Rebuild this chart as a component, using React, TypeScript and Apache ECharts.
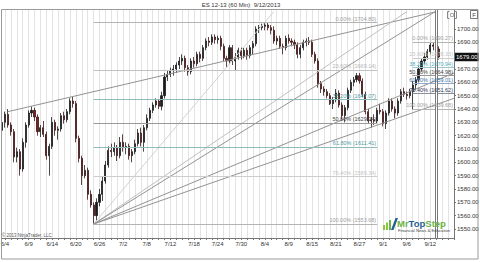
import { useEffect, useRef } from 'react';
import * as echarts from 'echarts';

const FONT = '"Liberation Sans", Arial, sans-serif';

const titleText = 'ES 12-13 (60 Min)  9/12/2013';
const copyrightText = '© 2013 NinjaTrader, LLC';

// x axis: 154 slots (two 60-min candles per grid slot), labels every 8 slots
const slotCount = 154;
const xLabels = ['6/4', '6/9', '6/14', '6/20', '6/26', '7/2', '7/8', '7/12', '7/18', '7/24', '7/30', '8/4', '8/9', '8/15', '8/21', '8/27', '9/1', '9/6', '9/12'];

const candleOpen = [
  1624, 1630, 1636, 1628, 1623, 1604, 1608, 1595, 1615, 1628,
  1637, 1639, 1634, 1623, 1626, 1621, 1605, 1612, 1630, 1624,
  1625, 1635, 1632, 1638, 1646, 1644, 1618, 1603, 1590, 1594,
  1576, 1568, 1560, 1570, 1576, 1586, 1598, 1609, 1608, 1611,
  1605, 1615, 1611, 1612, 1605, 1608, 1614, 1622, 1615, 1626,
  1633, 1639, 1643, 1646, 1642, 1650, 1664, 1666, 1669, 1670,
  1673, 1676, 1678, 1671, 1668, 1676, 1674, 1681, 1678, 1686,
  1691, 1690, 1694, 1692, 1693, 1687, 1678, 1676, 1686, 1676,
  1679, 1684, 1680, 1684, 1680, 1686, 1689, 1700, 1701, 1702,
  1703, 1701, 1699, 1691, 1693, 1687, 1686, 1693, 1691, 1690,
  1688, 1681, 1686, 1690, 1691, 1690, 1681, 1676, 1659, 1655,
  1653, 1650, 1644, 1647, 1652, 1643, 1635, 1641, 1654, 1660,
  1662, 1665, 1661, 1651, 1638, 1631, 1632, 1631, 1639, 1638,
  1629, 1637, 1646, 1640, 1637, 1646, 1653, 1651, 1650, 1653,
  1658, 1662, 1670, 1676, 1679, 1683, 1688, 1687, 1685,
];
const candleClose = [
  1630, 1636, 1628, 1623, 1604, 1608, 1595, 1615, 1628, 1637,
  1639, 1634, 1623, 1626, 1621, 1605, 1612, 1630, 1624, 1625,
  1635, 1632, 1638, 1646, 1644, 1618, 1603, 1590, 1594, 1576,
  1568, 1560, 1570, 1576, 1586, 1598, 1609, 1608, 1611, 1605,
  1615, 1611, 1612, 1605, 1608, 1614, 1622, 1615, 1626, 1633,
  1639, 1643, 1646, 1642, 1650, 1664, 1666, 1669, 1670, 1673,
  1676, 1678, 1671, 1668, 1676, 1674, 1681, 1678, 1686, 1691,
  1690, 1694, 1692, 1693, 1687, 1678, 1676, 1686, 1676, 1679,
  1684, 1680, 1684, 1680, 1686, 1689, 1700, 1701, 1702, 1703,
  1701, 1699, 1691, 1693, 1687, 1686, 1693, 1691, 1690, 1688,
  1681, 1686, 1690, 1691, 1690, 1681, 1676, 1659, 1655, 1653,
  1650, 1644, 1647, 1652, 1643, 1635, 1641, 1654, 1660, 1662,
  1665, 1661, 1651, 1638, 1631, 1632, 1631, 1639, 1638, 1629,
  1637, 1646, 1640, 1637, 1646, 1653, 1651, 1650, 1653, 1658,
  1662, 1670, 1676, 1679, 1683, 1688, 1687, 1685, 1679,
];
const candleLow = [
  1621, 1626, 1626, 1620, 1600, 1600, 1590, 1593, 1611, 1626,
  1634, 1631, 1620, 1619, 1619, 1602, 1590, 1610, 1620, 1617,
  1623, 1629, 1630, 1636, 1641, 1615, 1600, 1583, 1588, 1572,
  1566, 1553.68, 1556, 1567, 1571, 1584, 1596, 1604, 1605, 1601,
  1603, 1608, 1606, 1602, 1600, 1606, 1612, 1612, 1608, 1624,
  1631, 1637, 1641, 1640, 1639, 1648, 1661, 1664, 1665, 1667,
  1670, 1673, 1668, 1665, 1666, 1671, 1672, 1675, 1676, 1684,
  1687, 1688, 1689, 1689, 1684, 1676, 1671, 1674, 1673, 1669,
  1677, 1677, 1678, 1677, 1678, 1681, 1687, 1697, 1699, 1699,
  1699, 1696, 1689, 1688, 1685, 1681, 1684, 1689, 1687, 1685,
  1678, 1678, 1684, 1687, 1688, 1679, 1674, 1656, 1652, 1650,
  1648, 1643, 1640, 1645, 1641, 1632, 1630, 1639, 1652, 1657,
  1660, 1659, 1649, 1636, 1629, 1626, 1628, 1629, 1636, 1627,
  1625, 1635, 1638, 1633, 1635, 1644, 1649, 1647, 1648, 1639.68,
  1654, 1660, 1668, 1674, 1677, 1681, 1684, 1682, 1677,
];
const candleHigh = [
  1632, 1638, 1640, 1630, 1625, 1611, 1610, 1618, 1630, 1639,
  1642, 1641, 1636, 1628, 1631, 1623, 1614, 1634, 1632, 1627,
  1637, 1638, 1640, 1648, 1649, 1646, 1620, 1605, 1598, 1596,
  1579, 1570, 1573, 1580, 1589, 1601, 1612, 1614, 1615, 1613,
  1619, 1621, 1615, 1614, 1610, 1617, 1625, 1626, 1628, 1636,
  1641, 1645, 1648, 1647, 1653, 1667, 1669, 1671, 1673, 1675,
  1679, 1681, 1680, 1673, 1678, 1679, 1683, 1683, 1688, 1693,
  1694, 1696, 1696, 1695, 1695, 1689, 1680, 1688, 1688, 1682,
  1686, 1686, 1686, 1686, 1688, 1691, 1702, 1703, 1704, 1704.8,
  1704.8, 1703, 1702, 1695, 1695, 1689, 1695, 1696, 1693, 1692,
  1690, 1688, 1692, 1693, 1694, 1692, 1683, 1678, 1661, 1657,
  1655, 1652, 1649, 1655, 1654, 1645, 1643, 1656, 1662, 1664,
  1667, 1667, 1663, 1653, 1640, 1634, 1636, 1641, 1644, 1640,
  1639, 1648, 1648, 1642, 1648, 1655, 1656, 1653, 1655, 1661,
  1664, 1672, 1678, 1682, 1685, 1690.27, 1690.27, 1689, 1687,
];

const yTickValues = [1550, 1560, 1570, 1580, 1590, 1600, 1610, 1620, 1630, 1640, 1650, 1660, 1670, 1680, 1690, 1700];
const yAxisMin = 1543.25;
const yAxisMax = 1714.25;

const fibLevelNames = ['0.00%', '23.60%', '38.20%', '50.00%', '61.80%', '76.40%', '100.00%'];
const fib1Prices = [1704.8, 1669.14, 1647.07, 1629.24, 1611.41, 1589.34, 1553.68];
const fib2Prices = [1690.27, 1678.33, 1670.94, 1664.98, 1659.01, 1651.62, 1639.68];
const fib1Span = [31, 127];
const fib2Span = [139, 153];

const trendStarts = [[2, 1638], [31, 1553.68], [31, 1553.68], [31, 1553.68], [31, 1553.68], [31, 1553.68]];
const trendEnds = [[147, 1713], [92, 1713], [137, 1713], [147, 1713.5], [153, 1667], [153, 1648]];
const cursorIndex = 147;

const fib1LabelColors = ['#9e9e9e', '#b5b5b5', '#4f9a9c', '#444444', '#4f9a9c', '#c4c4c4', '#9e9e9e'];
const fib2LabelColors = ['#9e9e9e', '#c4c4c4', '#56aebb', '#444444', '#3f78a8', '#2d3a55', '#9e9e9e'];
const fib1LineColors = ['#b4b4b4', '#c2c2c2', '#8fb9ba', '#9a9a9a', '#8fb9ba', '#cdcdcd', '#b4b4b4'];
const fib2LineColors = ['#b4b4b4', '#cdcdcd', '#9cc8d0', '#9a9a9a', '#8fa9c8', '#8a8f9c', '#b4b4b4'];
const trendColors = ['#939393', '#d2d2d2', '#c0c0c0', '#939393', '#939393', '#939393'];

export default function App() {
  const ref = useRef<HTMLDivElement>(null);

  useEffect(() => {
    if (!ref.current) return;
    const chart = echarts.init(ref.current, null, { renderer: 'svg' });

    const categories = Array.from({ length: slotCount }, (_, i) => String(i));
    const candles = candleOpen.map((o, i) => [o, candleClose[i], candleLow[i], candleHigh[i]]);
    const lastClose = candleClose[candleClose.length - 1];

    const fibItems = (prices: number[], span: number[], lineColors: string[], labelColors: string[]) =>
      prices.map((p, k) => [
        {
          coord: [span[0], p],
          lineStyle: { color: lineColors[k], width: 1, type: 'solid' },
          label: {
            show: true,
            position: 'insideEndTop',
            formatter: `${fibLevelNames[k]} (${p.toFixed(2)})`,
            color: labelColors[k],
            fontSize: 5.5,
            fontFamily: FONT,
            distance: 1,
          },
        },
        { coord: [span[1], p] },
      ]);

    const trendItems = trendStarts.map((s, k) => [
      { coord: s, lineStyle: { color: trendColors[k], width: 1, type: 'solid' }, label: { show: false } },
      { coord: trendEnds[k] },
    ]);

    const cursorItems = [
      { xAxis: cursorIndex, lineStyle: { color: '#7a7a7a', width: 3, type: 'solid' }, label: { show: false } },
      { xAxis: cursorIndex, lineStyle: { color: '#ffffff', width: 1, type: 'solid' }, label: { show: false } },
    ];

    const option: any = {
      animation: false,
      backgroundColor: '#ffffff',
      textStyle: { fontFamily: FONT },
      grid: { left: 2, right: 26, top: 10, bottom: 24, containLabel: false, outerBoundsMode: 'none' },
      xAxis: {
        type: 'category',
        boundaryGap: false,
        data: categories,
        axisLine: { show: true, lineStyle: { color: '#777', width: 1 } },
        axisTick: { show: true, interval: (i: number) => i % 2 === 1, length: 2, lineStyle: { color: '#777' } },
        axisLabel: {
          interval: (i: number) => i % 8 === 1,
          formatter: (v: string) => {
            const i = Number(v);
            return (i - 1) % 8 === 0 ? xLabels[(i - 1) / 8] ?? '' : '';
          },
          fontSize: 6,
          color: '#333',
          margin: 3,
          fontFamily: FONT,
        },
        splitLine: { show: true, interval: (i: number) => i % 2 === 1, lineStyle: { color: '#e3e3e3', width: 1 } },
      },
      yAxis: {
        type: 'value',
        position: 'right',
        min: yAxisMin,
        max: yAxisMax,
        scale: true,
        splitLine: { show: false },
        axisLine: { show: true, lineStyle: { color: '#777', width: 1 } },
        axisTick: { show: true, length: 2, customValues: yTickValues, lineStyle: { color: '#777' } },
        axisLabel: {
          customValues: yTickValues.filter((v) => Math.abs(v - lastClose) > 5),
          formatter: (v: number) => v.toFixed(2),
          fontSize: 6,
          color: '#333',
          margin: 3,
          fontFamily: FONT,
        },
      },
      series: [
        {
          type: 'line',
          data: [],
          z: 1,
          silent: true,
          clip: false,
          markLine: {
            silent: true,
            animation: false,
            symbol: ['none', 'none'],
            data: [
              ...trendItems,
              ...fibItems(fib1Prices, fib1Span, fib1LineColors, fib1LabelColors),
              ...fibItems(fib2Prices, fib2Span, fib2LineColors, fib2LabelColors),
              ...cursorItems,
            ],
          },
        },
        {
          type: 'candlestick',
          data: candles,
          barWidth: 1.6,
          z: 3,
          clip: false,
          silent: true,
          itemStyle: {
            color: '#1c1c1c',
            color0: '#7d1f1f',
            borderColor: '#1c1c1c',
            borderColor0: '#3a1414',
            borderWidth: 0.8,
          },
        },
        {
          type: 'line',
          data: [],
          z: 5,
          silent: true,
          clip: false,
          markLine: {
            silent: true,
            animation: false,
            symbol: ['none', 'none'],
            data: [
              {
                yAxis: lastClose,
                lineStyle: { color: 'rgba(0,0,0,0)', width: 0 },
                label: {
                  show: true,
                  opacity: 1,
                  position: 'end',
                  formatter: lastClose.toFixed(2),
                  backgroundColor: '#111',
                  color: '#fff',
                  fontSize: 6,
                  fontFamily: FONT,
                  padding: [1.5, 1, 1, 1],
                  distance: 1,
                },
              },
            ],
          },
        },
      ],
      graphic: [
        { type: 'rect', silent: true, shape: { x: 1.5, y: 9.5, width: 476.5, height: 249.5 }, style: { fill: 'none', stroke: '#9a9a9a', lineWidth: 1 }, z: 10 },
        { type: 'text', silent: true, x: 241, y: 5, style: { text: titleText, fontSize: 6, fill: '#333', align: 'center', verticalAlign: 'middle', fontFamily: FONT }, z: 10 },
        { type: 'text', silent: true, x: 2, y: 235.5, style: { text: copyrightText, fontSize: 4.5, fill: '#555', align: 'left', verticalAlign: 'middle', fontFamily: FONT }, z: 10 },
        { type: 'rect', silent: true, shape: { x: 470.5, y: 10.5, width: 7, height: 8 }, style: { fill: '#fff', stroke: '#777', lineWidth: 1 }, z: 10 },
        { type: 'text', silent: true, x: 474, y: 14.8, style: { text: 'F', fontSize: 6, fill: '#444', align: 'center', verticalAlign: 'middle', fontFamily: FONT }, z: 11 },
        { type: 'polyline', silent: true, shape: { points: [[449.5, 11.5], [447.5, 11.5], [447.5, 18.5], [449.5, 18.5]] }, style: { stroke: '#888', fill: 'none', lineWidth: 1 }, z: 10 },
        { type: 'polyline', silent: true, shape: { points: [[454.5, 11.5], [456.5, 11.5], [456.5, 18.5], [454.5, 18.5]] }, style: { stroke: '#888', fill: 'none', lineWidth: 1 }, z: 10 },
        { type: 'rect', silent: true, shape: { x: 450.5, y: 13.5, width: 3, height: 3 }, style: { fill: 'none', stroke: '#999', lineWidth: 0.8 }, z: 10 },
        // logo
        { type: 'rect', silent: true, shape: { x: 383, y: 225, width: 2, height: 5 }, style: { fill: '#8cc63f' }, z: 10 },
        { type: 'rect', silent: true, shape: { x: 386, y: 222.5, width: 2, height: 7.5 }, style: { fill: '#8cc63f' }, z: 10 },
        { type: 'rect', silent: true, shape: { x: 389, y: 220, width: 2, height: 10 }, style: { fill: '#6cb33f' }, z: 10 },
        { type: 'polygon', silent: true, shape: { points: [[391, 230], [393.5, 230], [398, 218], [395.5, 218]] }, style: { fill: '#1f5f96' }, z: 10 },
        {
          type: 'text', silent: true, x: 397, y: 223,
          style: {
            text: '{g|Mr}{b|Top}{g|Step}',
            verticalAlign: 'middle',
            rich: {
              g: { fill: '#6cb33f', fontSize: 9.5, fontWeight: 'bold', fontFamily: FONT },
              b: { fill: '#1f5f96', fontSize: 9.5, fontWeight: 'bold', fontFamily: FONT },
            },
          },
          z: 10,
        },
        { type: 'text', silent: true, x: 398, y: 230, style: { text: 'Financial News & Education', fontSize: 4.2, fill: '#444', verticalAlign: 'middle', fontFamily: FONT }, z: 10 },
      ],
    };

    chart.setOption(option);
    return () => chart.dispose();
  }, []);

  return <div ref={ref} style={{ position: 'fixed', left: 0, top: 0, width: 480, height: 262, background: '#fff' }} />;
}
